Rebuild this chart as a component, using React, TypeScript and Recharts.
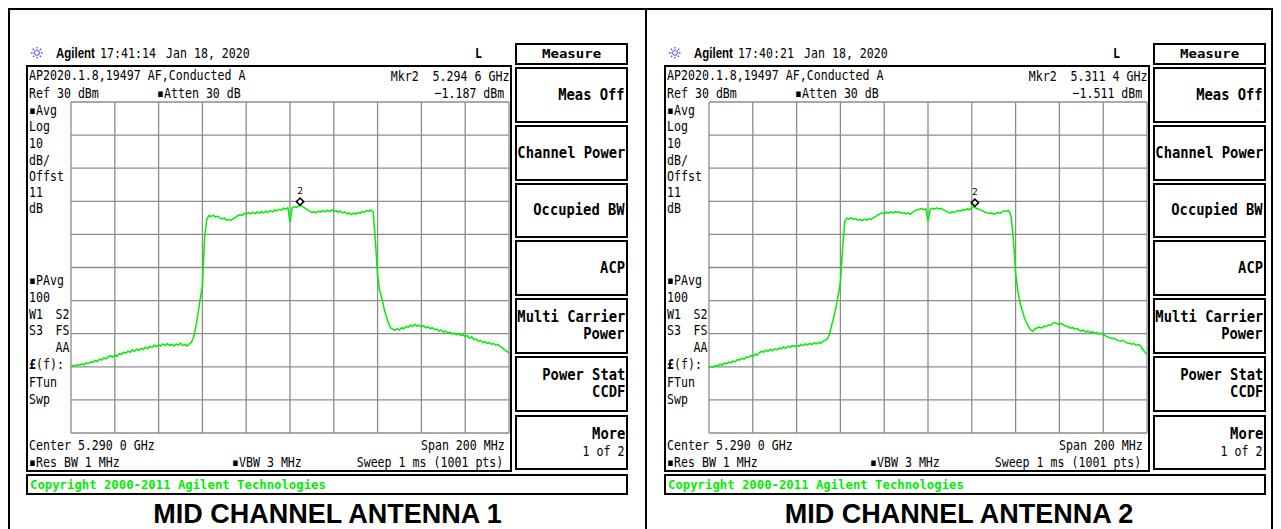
import React from "react";
import { LineChart, Line, XAxis, YAxis, CartesianGrid, ReferenceDot } from "recharts";

// frequency offset from center (5.290 GHz), MHz
const freqOffsetsMHz = [
  -100, -99, -98, -97, -96, -95, -94, -93, -92, -91, -90, -89, -88, -87, -86, -85, -84, -83, -82, -81,
  -80, -79, -78, -77, -76, -75, -74, -73, -72, -71, -70, -69, -68, -67, -66, -65, -64, -63, -62, -61,
  -60, -59, -58, -57, -56, -55, -54, -53, -52, -51, -50, -49, -48, -47, -46, -45, -44, -43, -42, -41,
  -40, -39, -38, -37, -36, -35, -34, -33, -32, -31, -30, -29, -28, -27, -26, -25, -24, -23, -22, -21,
  -20, -19, -18, -17, -16, -15, -14, -13, -12, -11, -10, -9, -8, -7, -6, -5, -4, -3, -2, -1,
  0, 1, 2, 3, 4, 5, 6, 7, 8, 9, 10, 11, 12, 13, 14, 15, 16, 17, 18, 19,
  20, 21, 22, 23, 24, 25, 26, 27, 28, 29, 30, 31, 32, 33, 34, 35, 36, 37, 38, 39,
  40, 41, 42, 43, 44, 45, 46, 47, 48, 49, 50, 51, 52, 53, 54, 55, 56, 57, 58, 59,
  60, 61, 62, 63, 64, 65, 66, 67, 68, 69, 70, 71, 72, 73, 74, 75, 76, 77, 78, 79,
  80, 81, 82, 83, 84, 85, 86, 87, 88, 89, 90, 91, 92, 93, 94, 95, 96, 97, 98, 99, 100,
];

// trace levels, dBm
const ant1Levels = [
  -49.9, -49.6, -49.8, -49.3, -49.5, -49.1, -49.4, -48.8, -49.0, -48.5, -48.7, -48.1, -48.4, -47.7, -48.0, -47.3, -47.6, -47.0, -46.6, -47.1,
  -46.5, -46.8, -46.0, -46.3, -45.6, -45.9, -45.3, -45.6, -44.9, -45.3, -44.7, -45.0, -44.4, -44.7, -44.1, -44.5, -43.8, -44.2, -43.5, -43.9,
  -43.3, -43.7, -43.1, -43.6, -43.0, -43.5, -43.2, -43.7, -43.1, -43.5, -42.9, -43.6, -43.2, -43.7, -43.1, -42.6, -41.0, -38.0, -34.0, -29.5,
  -25.6, -11.0, -5.5, -4.3, -4.6, -4.2, -4.8, -4.5, -5.0, -5.3, -5.1, -5.7, -5.5, -5.8, -5.3, -4.9, -4.4, -4.0, -4.3, -3.7,
  -3.9, -3.4, -3.8, -3.3, -3.7, -3.2, -3.6, -3.1, -3.5, -3.0, -3.4, -2.8, -3.2, -2.6, -2.9, -2.4, -2.7, -2.1, -2.4, -1.9,
  -6.3, -2.0, -1.6, -1.9, -1.4, -1.2, -1.7, -2.1, -2.6, -3.0, -3.4, -3.1, -3.5, -3.0, -3.3, -2.8, -3.2, -2.7, -3.1, -2.6,
  -3.0, -2.8, -3.3, -3.0, -3.5, -3.2, -3.8, -3.5, -4.0, -3.6, -3.9, -3.4, -3.6, -3.1, -3.3, -2.8, -3.0, -2.6, -3.2, -12.0,
  -22.5, -27.0, -29.5, -32.5, -34.8, -36.8, -38.3, -38.6, -39.0, -38.5, -38.9, -38.2, -38.5, -37.8, -38.1, -37.4, -37.8, -37.2, -37.7, -37.4,
  -37.9, -37.6, -38.2, -37.9, -38.5, -38.2, -38.8, -38.6, -39.2, -38.9, -39.5, -39.2, -39.8, -39.5, -40.1, -39.8, -40.3, -40.0, -40.6, -40.3,
  -40.9, -40.6, -41.3, -41.0, -41.8, -41.6, -42.3, -42.0, -42.7, -42.4, -43.0, -42.7, -43.2, -43.0, -43.5, -43.3, -43.9, -44.2, -44.9, -45.3, -45.9,
];

const ant2Levels = [
  -50.3, -49.9, -50.1, -49.6, -49.8, -49.2, -49.5, -48.9, -49.1, -48.6, -48.8, -48.2, -48.5, -47.8, -48.0, -47.4, -47.7, -47.0, -47.2, -46.6,
  -46.9, -46.2, -46.5, -45.7, -45.3, -45.6, -45.0, -45.3, -44.7, -45.1, -44.6, -44.9, -44.3, -44.6, -44.0, -44.4, -43.8, -44.1, -43.6, -43.9,
  -43.5, -43.8, -43.3, -43.6, -43.1, -43.4, -42.9, -43.3, -42.7, -43.1, -42.6, -42.9, -42.3, -42.0, -41.6, -40.2, -37.5, -35.0, -32.0, -28.4,
  -24.5, -14.0, -6.0, -5.1, -5.4, -5.0, -5.5, -5.2, -5.7, -5.5, -5.8, -5.4, -5.7, -5.3, -5.5, -5.0, -4.6, -4.2, -3.8, -3.5,
  -3.8, -3.3, -3.6, -3.2, -3.5, -3.1, -3.4, -3.2, -3.6, -3.4, -3.8, -3.5, -3.9, -3.3, -2.9, -2.6, -2.4, -2.2, -2.5, -2.3,
  -6.0, -2.4, -2.1, -2.4, -2.0, -2.3, -2.1, -2.6, -2.9, -3.2, -3.5, -3.2, -3.4, -3.0, -2.8, -2.9, -2.5, -2.7, -2.3, -2.5,
  -2.0, -1.6, -2.1, -2.3, -2.6, -2.9, -3.3, -3.5, -3.7, -3.5, -3.9, -3.7, -3.4, -3.6, -3.1, -2.9, -3.0, -2.8, -4.8, -11.5,
  -21.5, -27.0, -30.6, -33.0, -35.2, -36.6, -38.0, -39.0, -39.2, -38.5, -38.2, -38.0, -38.3, -37.7, -37.9, -37.3, -37.5, -36.8, -36.6, -37.0,
  -37.2, -36.9, -37.5, -37.7, -37.9, -38.3, -38.1, -38.7, -38.4, -38.9, -39.2, -38.9, -39.5, -39.2, -39.7, -39.4, -39.9, -39.6, -40.1, -39.8,
  -40.3, -40.6, -41.0, -41.2, -41.5, -41.4, -41.8, -42.1, -42.3, -42.0, -42.5, -42.8, -42.9, -43.2, -43.0, -43.5, -43.3, -43.6, -44.7, -45.5, -46.2,
];

const freqTicks = [-100, -80, -60, -40, -20, 0, 20, 40, 60, 80, 100];
const levelTicks = [-70, -60, -50, -40, -30, -20, -10, 0, 10, 20, 30];

const panelTitles = ["MID CHANNEL ANTENNA 1", "MID CHANNEL ANTENNA 2"];
const sweepTimes = ["17:41:14", "17:40:21"];
const markerFreqLabels = ["5.294 6 GHz", "5.311 4 GHz"];
const markerLevelLabels = ["\u22121.187 dBm", "\u22121.511 dBm"];
const markerOffsetsMHz = [4.6, 21.4];
const markerLevels = [-1.187, -1.511];
const softkeys = [
  ["Meas Off"],
  ["Channel Power"],
  ["Occupied BW"],
  ["ACP"],
  ["Multi Carrier", "Power"],
  ["Power Stat", "CCDF"],
];

const traceData = freqOffsetsMHz.map((f, i) => ({ f, a1: ant1Levels[i], a2: ant2Levels[i] }));

const MONO = '"DejaVu Sans Mono", monospace';
const SANS = '"Liberation Sans", Arial, sans-serif';
const W = 1281;
const GREEN = "#00ee00";

type TProps = {
  x: number;
  cap: number;
  size?: number;
  sx?: number;
  bold?: boolean;
  right?: boolean;
  color?: string;
  font?: string;
  children: React.ReactNode;
};

const T = ({ x, cap, size = 14.5, sx = 0.8, bold, right, color = "#000", font = MONO, children }: TProps) => (
  <div
    style={{
      position: "absolute",
      top: cap - (font === MONO ? 0.117 : 0.13) * size,
      ...(right ? { right: W - x } : { left: x }),
      fontFamily: font,
      fontSize: size,
      lineHeight: `${size}px`,
      fontWeight: bold ? 700 : 400,
      color,
      whiteSpace: "pre",
      transform: `scaleX(${sx})`,
      transformOrigin: right ? "right top" : "left top",
    }}
  >
    {children}
  </div>
);

const Box = ({ l, t, w, h, b = 2 }: { l: number; t: number; w: number; h: number; b?: number }) => (
  <div
    style={{
      position: "absolute",
      left: l,
      top: t,
      width: w,
      height: h,
      border: `${b}px solid #000`,
      boxSizing: "border-box",
    }}
  />
);

const MarkerShape = (props: any) => {
  const { cx, cy } = props;
  const c = cy - 3.6;
  return (
    <g>
      <path
        d={`M${cx},${c - 3.6} L${cx + 3.6},${c} L${cx},${c + 3.6} L${cx - 3.6},${c} Z`}
        fill="#fff"
        stroke="#000"
        strokeWidth={1.6}
      />
      <text x={cx} y={cy - 11} textAnchor="middle" fontSize={9.5} fontFamily={MONO} fill="#000">
        2
      </text>
    </g>
  );
};

const Spark = ({ x, y }: { x: number; y: number }) => (
  <svg style={{ position: "absolute", left: x, top: y }} width={14} height={14} viewBox="0 0 14 14">
    {[0, 45, 90, 135].map((a) => (
      <line
        key={a}
        x1={1}
        y1={7}
        x2={13}
        y2={7}
        stroke="#4a4ae0"
        strokeWidth={1.3}
        strokeDasharray="1.5 1"
        transform={`rotate(${a} 7 7)`}
      />
    ))}
    <circle cx={7} cy={7} r={1.6} fill="#fff" />
  </svg>
);

const Panel = ({ idx, ox }: { idx: number; ox: number }) => {
  const X = (v: number) => v + ox;
  const keyTops = [67, 125, 183, 240, 298, 356, 415];
  const keyBottoms = [123, 181, 238, 296, 354, 412, 470];
  const leftLabels: [string, number][] = [
    ["\u25aaAvg", 104.3],
    ["Log", 121],
    ["10", 137.7],
    ["dB/", 154.3],
    ["Offst", 171],
    ["11", 186.5],
    ["dB", 203],
    ["\u25aaPAvg", 275],
    ["100", 291.7],
    ["W1", 308.3],
    ["S3", 325],
    ["FTun", 376.7],
    ["Swp", 393.3],
  ];
  const rightLabels: [string, number][] = [
    ["S2", 308.3],
    ["FS", 325],
    ["AA", 341.7],
  ];
  return (
    <>
      <Spark x={X(30)} y={46} />
      <T x={X(56)} cap={47.7} size={14} sx={0.82} bold font={SANS}>
        Agilent
      </T>
      <T x={X(100)} cap={47.7}>{sweepTimes[idx]}</T>
      <T x={X(165.5)} cap={47.7}>Jan 18, 2020</T>
      <T x={X(475)} cap={47.7} bold>
        L
      </T>

      {/* screen frame */}
      <Box l={X(26)} t={65} w={486} h={407} />
      <T x={X(29)} cap={70}>AP2020.1.8,19497 AF,Conducted A</T>
      <T x={X(29)} cap={87.3}>Ref 30 dBm</T>
      <T x={X(156.5)} cap={87.3}>{"\u25aaAtten 30 dB"}</T>
      <T x={X(509)} cap={70.5} right>
        {"Mkr2  " + markerFreqLabels[idx]}
      </T>
      <T x={X(504.5)} cap={87.3} right>
        {markerLevelLabels[idx]}
      </T>
      {leftLabels.map(([s, c]) => (
        <T key={s} x={X(29)} cap={c}>
          {s}
        </T>
      ))}
      {rightLabels.map(([s, c]) => (
        <T key={s} x={X(69.5)} cap={c} right>
          {s}
        </T>
      ))}
      <T x={X(29)} cap={358.3}>
        <b>£</b>(f):
      </T>
      <T x={X(29)} cap={439.5}>Center 5.290 0 GHz</T>
      <T x={X(505)} cap={439.5} right>
        Span 200 MHz
      </T>
      <T x={X(29)} cap={456.7}>{"\u25aaRes BW 1 MHz"}</T>
      <T x={X(231.5)} cap={456.7}>{"\u25aaVBW 3 MHz"}</T>
      <T x={X(503.5)} cap={456.7} right>
        Sweep 1 ms (1001 pts)
      </T>

      <div style={{ position: "absolute", left: X(70), top: 101 }}>
        <LineChart width={440} height={333} data={traceData} margin={{ top: 1, right: 1, bottom: 1, left: 1 }}>
          <CartesianGrid stroke="#8c8c8c" strokeWidth={1.3} />
          <XAxis dataKey="f" type="number" domain={[-100, 100]} ticks={freqTicks} hide />
          <YAxis type="number" domain={[-70, 30]} ticks={levelTicks} hide />
          <Line
            type="linear"
            dataKey={idx === 0 ? "a1" : "a2"}
            stroke={GREEN}
            strokeWidth={1.5}
            dot={false}
            isAnimationActive={false}
          />
          <ReferenceDot x={markerOffsetsMHz[idx]} y={markerLevels[idx]} r={4} shape={MarkerShape} />
        </LineChart>
      </div>

      {/* softkeys */}
      <Box l={X(515)} t={43} w={113} h={22} />
      <T x={X(542)} cap={49} size={12} sx={1.17} bold>
        Measure
      </T>
      {keyTops.map((t, i) => (
        <Box key={t} l={X(515)} t={t} w={113} h={keyBottoms[i] - t} />
      ))}
      {softkeys.map((lines, i) => {
        const mid = (keyTops[i] + keyBottoms[i]) / 2;
        const first = mid - 5.6 - ((lines.length - 1) * 16.7) / 2;
        return lines.map((s, j) => (
          <T key={s} x={X(625)} cap={first + j * 16.7} size={15.5} sx={0.89} bold right>
            {s}
          </T>
        ));
      })}
      <T x={X(625)} cap={429} size={15.5} sx={0.89} bold right>
        More
      </T>
      <T x={X(624.5)} cap={445.3} right>
        1 of 2
      </T>

      <Box l={X(26)} t={474} w={602} h={21} />
      <T x={X(30)} cap={480} size={13} sx={0.945} bold color={GREEN}>
        Copyright 2000-2011 Agilent Technologies
      </T>
    </>
  );
};

const App = () => (
  <div
    style={{
      position: "absolute",
      left: 0,
      top: 0,
      width: W,
      height: 529,
      background: "#fff",
      overflow: "hidden",
    }}
  >
    {/* table borders */}
    <div style={{ position: "absolute", left: 8, top: 8, width: 1265, height: 2, background: "#000" }} />
    <div style={{ position: "absolute", left: 8, top: 8, width: 2, height: 521, background: "#000" }} />
    <div style={{ position: "absolute", left: 645, top: 8, width: 2, height: 521, background: "#000" }} />
    <div style={{ position: "absolute", left: 1271, top: 8, width: 2, height: 521, background: "#000" }} />

    <Panel idx={0} ox={0} />
    <Panel idx={1} ox={638} />

    {panelTitles.map((s, i) => (
      <div
        key={s}
        style={{
          position: "absolute",
          left: i === 0 ? 10 : 647,
          width: i === 0 ? 635 : 624,
          top: 501,
          textAlign: "center",
          fontFamily: SANS,
          fontWeight: 700,
          fontSize: 27,
          lineHeight: "27px",
          whiteSpace: "pre",
        }}
      >
        {s}
      </div>
    ))}
  </div>
);

export default App;
